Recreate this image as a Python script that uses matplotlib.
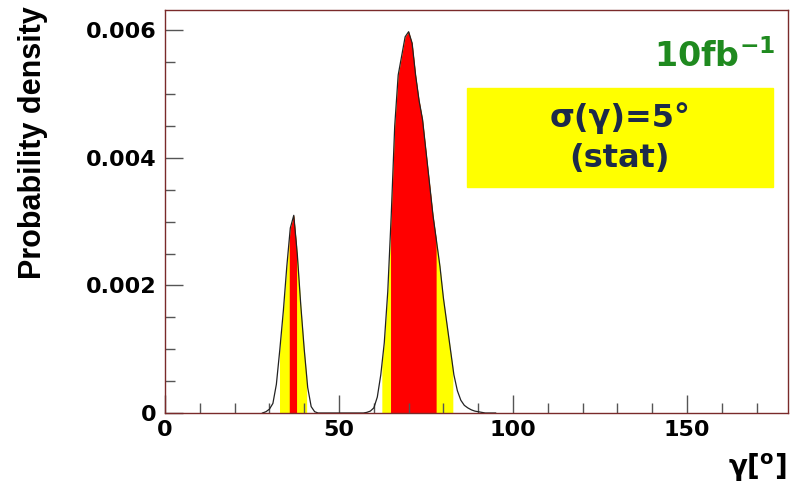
import numpy as np
import matplotlib
matplotlib.use("Agg")
import matplotlib.pyplot as plt
from matplotlib.ticker import MultipleLocator

# gamma (degrees) and probability density
gamma = list(range(28, 96))
density = [
    0.0, 0.00002, 0.00006, 0.00015, 0.00045, 0.0010, 0.0016, 0.0023,      # 28-35
    0.0029, 0.0031, 0.0025, 0.0017, 0.0010, 0.0004, 0.0001, 0.00002,      # 36-43
    0, 0, 0, 0, 0, 0, 0, 0, 0, 0, 0, 0, 0, 0,                            # 44-57
    0.00001, 0.00003, 0.00008, 0.00025, 0.0006, 0.0011, 0.0019, 0.0031,   # 58-65
    0.0045, 0.0053, 0.0056, 0.0059, 0.00598, 0.0058, 0.0053, 0.0049,      # 66-73
    0.0046, 0.0041, 0.0036, 0.0031, 0.0027, 0.0023, 0.0018, 0.0014,       # 74-81
    0.0010, 0.0006, 0.00035, 0.0002, 0.00012, 0.00008, 0.00005, 0.00003,  # 82-89
    0.00002, 0.00001, 0, 0, 0, 0,                                        # 90-95
]

# confidence bands (outer = yellow, inner = red)
outer_lo = [32.9, 62.3]
outer_hi = [40.7, 82.7]
inner_lo = [35.7, 64.8]
inner_hi = [37.8, 77.9]

lumi_label = "10fb$^{\\mathbf{-1}}$"
box_lines = ["σ(γ)=5°", "(stat)"]

g = np.array(gamma, dtype=float)
dens = np.array(density)


def band(ax, lo, hi, color):
    xs = np.concatenate([[lo], g[(g > lo) & (g < hi)], [hi]])
    ys = np.interp(xs, g, dens)
    ax.fill_between(xs, ys, color=color, lw=0)


fig = plt.figure(figsize=(7.9, 4.84), dpi=100)
ax = fig.add_axes([165 / 790, 1 - 413 / 484, 623 / 790, 403 / 484])

for lo, hi in zip(outer_lo, outer_hi):
    band(ax, lo, hi, "#ffff00")
for lo, hi in zip(inner_lo, inner_hi):
    band(ax, lo, hi, "#ff0000")
ax.plot(g, dens, color="#222222", lw=0.9)

ax.set_xlim(0, 179)
ax.set_ylim(0, 0.00632)

ax.xaxis.set_major_locator(MultipleLocator(50))
ax.xaxis.set_minor_locator(MultipleLocator(10))
ax.yaxis.set_major_locator(MultipleLocator(0.002))
ax.yaxis.set_minor_locator(MultipleLocator(0.0005))
ax.yaxis.set_major_formatter(plt.FuncFormatter(lambda v, p: "0" if v == 0 else f"{v:.3f}"))

ax.tick_params(which="both", direction="in", width=1, color="#555555")
ax.tick_params(which="major", length=13)
ax.tick_params(which="minor", length=7)
ax.tick_params(axis="x", pad=5)
ax.tick_params(axis="y", pad=6)
for lab in ax.get_xticklabels() + ax.get_yticklabels():
    lab.set_fontweight("bold")
    lab.set_fontsize(16)

for s in ax.spines.values():
    s.set_color("#7a2a2a")
    s.set_linewidth(1)

fig.text(33 / 790, 1 - 143 / 484, "Probability density", rotation=90, ha="center", va="center",
         fontsize=22, fontweight="bold", family=["Liberation Sans", "DejaVu Sans"])
fig.text(786 / 790, 1 - 468 / 484, "γ[$^{\\mathbf{o}}$]", ha="right", va="center",
         fontsize=20, fontweight="bold")

ax.text(0.979, 0.885, lumi_label, transform=ax.transAxes, ha="right", va="center",
        fontsize=24, fontweight="bold", color="#1f8a1f")

fig.patches.append(plt.Rectangle((467 / 790, 1 - 187 / 484), 306 / 790, 99 / 484,
                                 transform=fig.transFigure, color="#ffff00", zorder=3))
fig.text(620 / 790, 1 - 118 / 484, box_lines[0], ha="center", va="center",
         fontsize=23, fontweight="bold", color="#1c2a4a", zorder=4)
fig.text(620 / 790, 1 - 158 / 484, box_lines[1], ha="center", va="center",
         fontsize=23, fontweight="bold", color="#1c2a4a", zorder=4)

fig.savefig("out.png", dpi=100)
